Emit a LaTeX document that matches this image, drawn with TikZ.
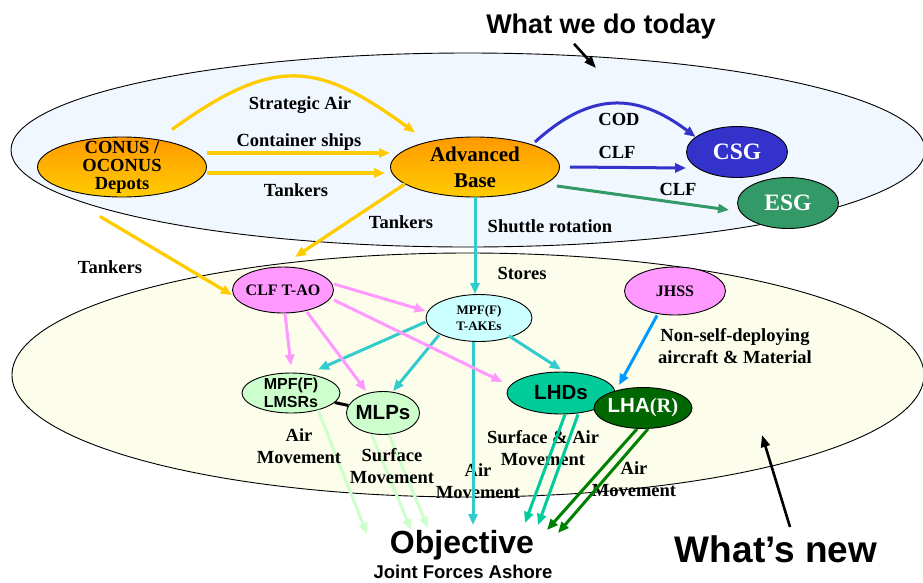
\documentclass[tikz,border=0pt]{standalone}
\usepackage{fontspec}
\setmainfont{Liberation Serif}
\setsansfont{Liberation Sans}
\usetikzlibrary{shapes.geometric,arrows.meta}

% palette
\definecolor{supply}{HTML}{FFCC00}
\definecolor{depotTop}{HTML}{FF9900}
\definecolor{depotBot}{HTML}{FFCC00}
\definecolor{codblue}{HTML}{3333CC}
\definecolor{esggreen}{HTML}{339966}
\definecolor{shuttle}{HTML}{33CCCC}
\definecolor{clfpink}{HTML}{FF99FF}
\definecolor{mint}{HTML}{CCFFCC}
\definecolor{lhdteal}{HTML}{00CC99}
\definecolor{lhafill}{HTML}{006600}
\definecolor{lhaline}{HTML}{008000}
\definecolor{jhssline}{HTML}{0099FF}
\definecolor{takefill}{HTML}{CCFFFF}
\definecolor{todayfill}{HTML}{F1F7FF}
\definecolor{newfill}{HTML}{FDFDEC}

\newcommand\setfs[2]{\fontsize{#1}{#2}\selectfont}

\begin{document}
\begin{tikzpicture}[x=1pt,y=-1pt,
  vessel/.style={ellipse, draw=black, line width=0.9pt, inner sep=0pt},
  vtext/.style={inner sep=0pt, align=center},
  caption/.style={font=\bfseries\setfs{18.5}{22}, inner sep=0pt, align=center, anchor=base},
  headed/.style={-{Triangle[length=11pt,width=9pt]}},
  yellowflow/.style={headed, draw=supply, line width=3.3pt},
  blueflow/.style={headed, draw=codblue, line width=3pt},
  greenflow/.style={headed, draw=esggreen, line width=3pt},
  cyanflow/.style={headed, draw=shuttle, line width=3pt},
  pinkflow/.style={headed, draw=clfpink, line width=3pt},
  mintflow/.style={headed, draw=mint, line width=3pt},
  tealflow/.style={headed, draw=lhdteal, line width=3pt},
  darkflow/.style={headed, draw=lhaline, line width=3pt},
  skyflow/.style={headed, draw=jhssline, line width=3pt},
  pointer/.style={-{Triangle[length=12pt,width=9pt]}, draw=black, line width=2.6pt},
]
\useasboundingbox (0,0) rectangle (923,582);

% the two operating areas
\path[draw=black, line width=0.9pt, fill=todayfill] (468,150) ellipse [x radius=457, y radius=97];
\path[draw=black, line width=0.9pt, fill=newfill] (468,375) ellipse [x radius=456, y radius=122];

% ships and bases
\node[vessel, minimum width=169pt, minimum height=60pt, top color=depotTop, bottom color=depotBot] (depots) at (122,167) {};
\node[vtext, font=\bfseries\setfs{18.5}{18}] (depotsTxt) at (depots.center) {CONUS /\\OCONUS\\Depots};

\node[vessel, minimum width=169pt, minimum height=60pt, top color=depotTop, bottom color=depotBot] (base) at (475,167) {};
\node[vtext, font=\bfseries\setfs{21}{26}] (baseTxt) at (base.center) {Advanced\\Base};

\node[vessel, minimum width=101pt, minimum height=51pt, fill=codblue] (csg) at (737,152) {};
\node[vtext, text=white, font=\bfseries\setfs{23.5}{26}] (csgTxt) at (csg.center) {CSG};

\node[vessel, minimum width=101pt, minimum height=51pt, fill=esggreen] (esg) at (788,203) {};
\node[vtext, text=white, font=\bfseries\setfs{23.5}{26}] (esgTxt) at (esg.center) {ESG};

\node[vessel, minimum width=101pt, minimum height=46pt, fill=clfpink] (clf) at (283,290) {};
\node[vtext, font=\bfseries\setfs{16}{18}] (clfTxt) at (clf.center) {CLF T-AO};

\node[vessel, minimum width=106pt, minimum height=47pt, fill=takefill] (take) at (479,318) {};
\node[vtext, font=\bfseries\setfs{13}{16}] (takeTxt) at (take.center) {MPF(F)\\T-AKEs};

\node[vessel, minimum width=101pt, minimum height=48pt, fill=clfpink] (jhss) at (675,291) {};
\node[vtext, font=\bfseries\setfs{16}{18}] (jhssTxt) at (jhss.center) {JHSS};

\node[vessel, minimum width=98pt, minimum height=40pt, fill=mint] (lmsr) at (291,393) {};
\node[vtext, font=\sffamily\bfseries\setfs{16}{18}] (lmsrTxt) at (lmsr.center) {MPF(F)\\LMSRs};

\node[vessel, minimum width=73pt, minimum height=43pt, fill=mint] (mlp) at (383,413) {};
\node[vtext, font=\sffamily\bfseries\setfs{20.5}{22}] (mlpTxt) at (mlp.center) {MLPs};

\node[vessel, minimum width=108pt, minimum height=42pt, fill=lhdteal] (lhd) at (561,393) {};
\node[vtext, font=\sffamily\bfseries\setfs{20.5}{22}] (lhdTxt) at (lhd.center) {LHDs};

\node[vessel, minimum width=98pt, minimum height=41pt, fill=lhafill] (lha) at (643,408) {};
\node[vtext, text=white, font=\bfseries\setfs{20.5}{22}] (lhaTxt) at (lha.center) {{\sffamily LHA}(R)};

% headings
\node[inner sep=0pt, anchor=base, font=\sffamily\bfseries\setfs{27}{30}] (today) at (601,33) {What we do today};
\node[inner sep=0pt, anchor=base, font=\sffamily\bfseries\setfs{37}{40}] (whatsnew) at (776,562) {What’s new};
\node[inner sep=0pt, anchor=base, font=\sffamily\bfseries\setfs{32}{34}] (objective) at (462,553) {Objective};
\node[inner sep=0pt, anchor=base, font=\sffamily\bfseries\setfs{18.5}{20}] (ashore) at (463,578) {Joint Forces Ashore};

% free arrow ends
\coordinate (tankEnd) at (295,257);
\coordinate (todayTip) at (596,68);
\coordinate (newTip) at (762,435);
\coordinate (objA) at (367,534);
\coordinate (objB) at (411,530);
\coordinate (objC) at (428,528);
\coordinate (objD) at (473,525);
\coordinate (objE) at (525,523);
\coordinate (objF) at (538,525);
\coordinate (objG) at (547,530);
\coordinate (objH) at (558,533);

% surface and air movement from the prepositioning ships (under their labels)
\draw[mintflow] ([shift={(27,17)}]lmsr.center) -- (objA);
\draw[mintflow] ([xshift=-11pt]mlp.south) -- (objB);
\draw[mintflow] ([xshift=6pt]mlp.south) -- (objC);

% route labels (base = baseline of the last line)
\node[caption] (lStrat) at (300,109) {Strategic Air};
\node[caption] (lCont) at (299,146) {Container ships};
\node[caption] (lTank1) at (296,196) {Tankers};
\node[caption] (lTank2) at (401,228) {Tankers};
\node[caption] (lTank3) at (110,273) {Tankers};
\node[caption] (lCod) at (619,125) {COD};
\node[caption] (lClf1) at (617,158) {CLF};
\node[caption] (lClf2) at (678,195) {CLF};
\node[caption] (lShuttle) at (550,232) {Shuttle rotation};
\node[caption] (lStores) at (522,279) {Stores};
\node[caption] (lNsd) at (735,363) {Non-self-deploying\\aircraft \& Material};
\node[caption] (lAir1) at (299,463) {Air\\Movement};
\node[caption] (lSurf) at (392,483) {Surface\\Movement};
\node[caption] (lAir2) at (478,498) {Air\\Movement};
\node[caption] (lSurfAir) at (543,465) {Surface \& Air\\Movement};
\node[caption] (lAir3) at (634,496) {Air\\Movement};

% strategic lift into the advanced base
\draw[yellowflow] ([shift={(50,-7)}]depots.north) .. controls (275,55) and (318,62) .. ([shift={(-60,-4)}]base.north);
\draw[yellowflow] ([yshift=14pt]depots.east) -- ([yshift=14pt]base.west);
\draw[yellowflow, shorten >=5pt] ([yshift=-6pt]depots.east) -- ([yshift=-6pt]base.west);
\draw[yellowflow] ([shift={(-70,17)}]base.center) -- (tankEnd);
\draw[yellowflow] ([shift={(-22,19)}]depots.south) -- ([yshift=-5pt]clf.west);

% sustainment of the strike groups
\draw[blueflow] ([shift={(60,-25)}]base.center) .. controls (590,92) and (636,92) .. (csg.160);
\draw[blueflow] ([xshift=10pt]base.east) -- ([yshift=-16pt]csg.west);
\draw[greenflow] ([shift={(82,19)}]base.center) -- ([shift={(-8,7)}]esg.west);

% sea base
\draw[cyanflow] (base.south) -- (base.south |- take.north);
\draw[cyanflow] ([yshift=-4pt]take.west) -- ([shift={(27,-3)}]lmsr.north);
\draw[cyanflow] ([shift={(-40,17)}]take.center) -- ([xshift=10pt]mlp.north);
\draw[cyanflow] ([shift={(30,18)}]take.center) -- ([yshift=2pt]lhd.north);
\draw[cyanflow] ([xshift=-6pt]take.south) -- (objD);

\draw[pinkflow] ([yshift=6pt]clf.east) -- ([yshift=7pt]take.west);
\draw[pinkflow] ([yshift=-10pt]clf.east) -- ([shift={(-4,-11)}]lhd.west);
\draw[pinkflow] ([xshift=2pt]clf.south) -- ([yshift=7pt]lmsr.north);
\draw[pinkflow] ([shift={(24,22)}]clf.center) -- ([shift={(-17,0)}]mlp.north);

\draw[skyflow] ([xshift=-18pt]jhss.south) -- ([shift={(-24,-2)}]lha.north);
\draw[black, line width=3pt] (lmsr) -- (mlp);

% movement ashore from the amphibious ships
\draw[tealflow] ([xshift=4pt]lhd.south) -- (objE);
\draw[tealflow] ([xshift=17pt]lhd.south) -- (objF);
\draw[darkflow] ([xshift=-6pt]lha.south) -- (objG);
\draw[darkflow] ([xshift=5pt]lha.south) -- (objH);

% heading pointers
\draw[pointer] ([shift={(-27,5)}]today.south) -- (todayTip);
\draw[pointer] ([shift={(14,-8)}]whatsnew.north) -- (newTip);
\end{tikzpicture}
\end{document}
